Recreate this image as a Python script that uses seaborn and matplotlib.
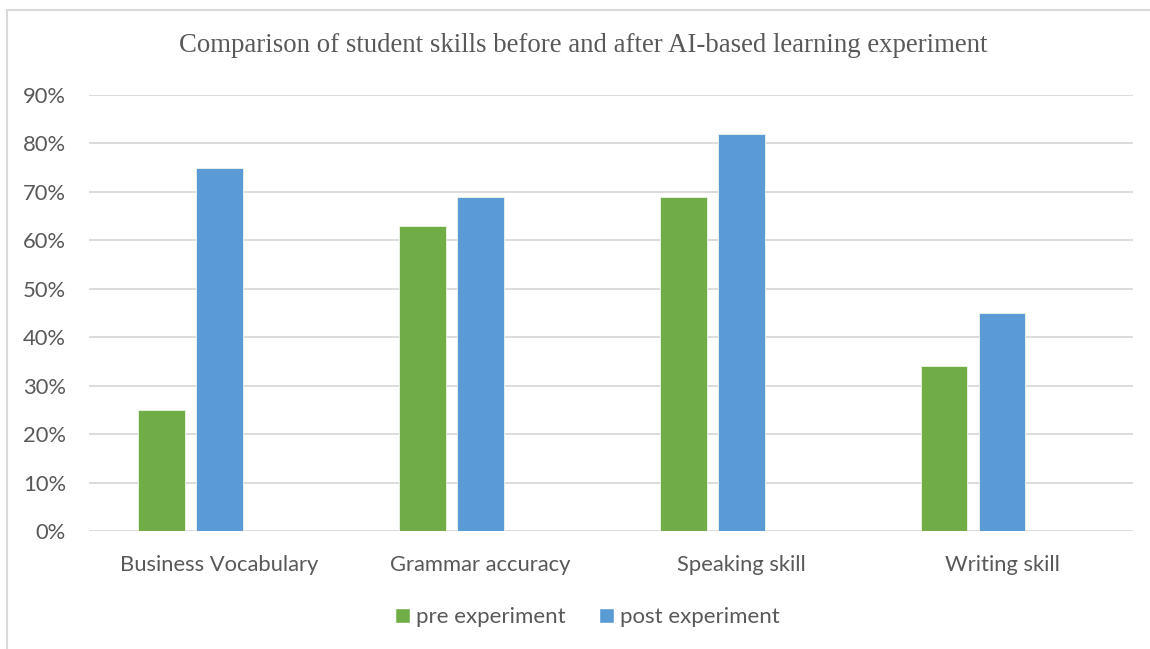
import matplotlib
matplotlib.use("Agg")
import matplotlib.pyplot as plt
from matplotlib.patches import Rectangle, Patch
from matplotlib.ticker import PercentFormatter, MultipleLocator
import seaborn as sns
import pandas as pd

skills = ["Business Vocabulary", "Grammar accuracy", "Speaking skill", "Writing skill"]
pre_experiment = [0.25, 0.63, 0.69, 0.34]
post_experiment = [0.75, 0.69, 0.82, 0.45]
series_names = ["pre experiment", "post experiment"]
title_text = "Comparison of student skills before and after AI-based learning experiment"

GREEN = "#70AD47"
BLUE = "#5B9BD5"
GRID = "#D9D9D9"
TEXT = "#595959"

df = pd.DataFrame({
    "skill": skills * 2,
    "share": pre_experiment + post_experiment,
    "series": [series_names[0]] * len(skills) + [series_names[1]] * len(skills),
})

sns.set_theme(style="white")
plt.rcParams["font.family"] = ["Lato", "DejaVu Sans"]

fig = plt.figure(figsize=(11.5, 6.49), dpi=100)
ax = fig.add_axes([0.0774, 0.1818, 0.9076, 0.6718])

# a third, empty slot keeps the Excel-style clustered layout
hue_order = series_names + [" "]
palette = {series_names[0]: GREEN, series_names[1]: BLUE, " ": "white"}
sns.barplot(data=df, x="skill", y="share", hue="series", hue_order=hue_order,
            palette=palette, width=0.667, gap=0.2, dodge=True,
            saturation=1, errorbar=None, legend=False, ax=ax, zorder=3,
            edgecolor="#EEF5EA", linewidth=0.6)

ax.set_ylim(0, 0.9)
ax.set_xlim(-0.5, len(skills) - 0.5)
ax.yaxis.set_major_locator(MultipleLocator(0.1))
ax.yaxis.set_major_formatter(PercentFormatter(1.0, decimals=0))
ax.grid(axis="y", color=GRID, linewidth=1.3, zorder=0)
ax.grid(axis="x", visible=False)
for s in ax.spines.values():
    s.set_visible(False)
ax.set_xlabel("")
ax.set_ylabel("")
ax.tick_params(axis="both", length=0, labelsize=15.8, labelcolor=TEXT)
ax.tick_params(axis="y", pad=16.5)
ax.tick_params(axis="x", pad=17)

fig.text(0.507, 1 - 46 / 649, title_text, ha="center", va="center",
         fontsize=19.3, color=TEXT, family=["Liberation Serif", "DejaVu Serif"])

handles = [Patch(facecolor=GREEN, label=series_names[0]),
           Patch(facecolor=BLUE, label=series_names[1])]
fig.legend(handles=handles, loc="center", bbox_to_anchor=(0.511, 1 - 617 / 649),
           ncol=2, frameon=False, fontsize=16, labelcolor=TEXT,
           handlelength=0.65, handleheight=0.65, handletextpad=0.3, columnspacing=1.5)

fig.patches.append(Rectangle((7 / 1150, -0.1), 1.2, 1 - 10 / 649 + 0.1,
                             transform=fig.transFigure, fill=False,
                             edgecolor=GRID, linewidth=1.5))

fig.savefig("out.png", dpi=100, facecolor="white")
